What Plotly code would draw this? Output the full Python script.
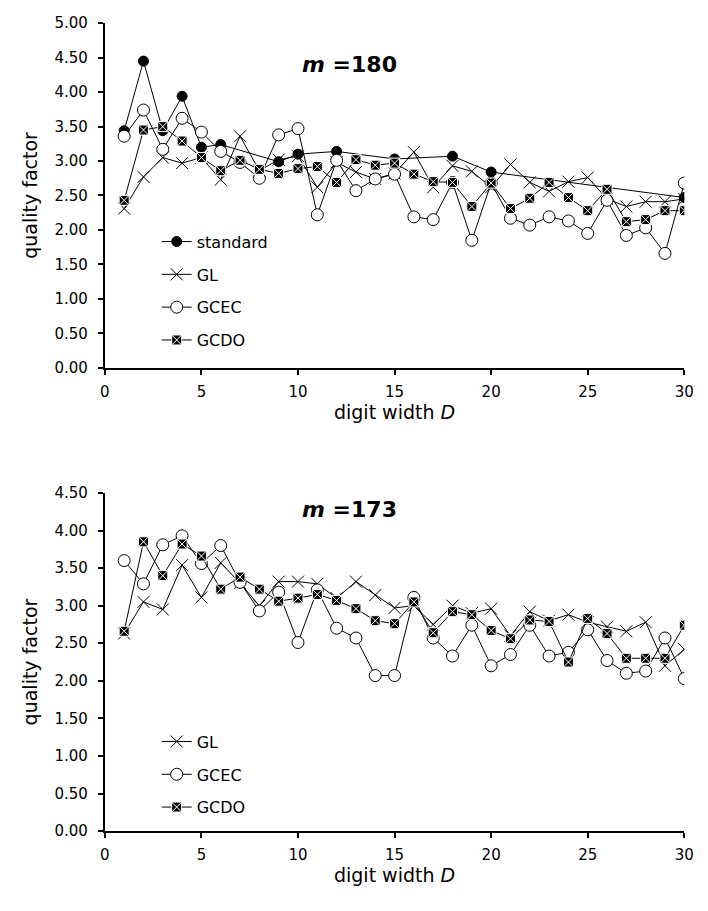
import plotly.graph_objects as go

# digit widths
D = list(range(1, 31))

# m = 180
std_D_180 = [1, 2, 3, 4, 5, 6, 9, 10, 12, 15, 18, 20, 30]
std_180 = [3.44, 4.45, 3.44, 3.94, 3.20, 3.24, 2.99, 3.10, 3.14, 3.03, 3.07, 2.84, 2.47]
gl_180 = [2.31, 2.77, 3.05, 2.97, 3.05, 2.73, 3.36, 2.86, 3.02, 3.07,
          2.62, 2.98, 2.84, 2.74, 2.82, 3.13, 2.62, 2.93, 2.85, 2.62,
          2.95, 2.69, 2.56, 2.70, 2.76, 2.45, 2.34, 2.41, 2.41, 2.45]
gcec_180 = [3.36, 3.74, 3.17, 3.62, 3.42, 3.14, 2.98, 2.75, 3.38, 3.47,
            2.22, 3.01, 2.57, 2.74, 2.81, 2.19, 2.15, 2.69, 1.85, 2.68,
            2.17, 2.07, 2.19, 2.13, 1.95, 2.43, 1.92, 2.03, 1.66, 2.68]
gcdo_180 = [2.43, 3.45, 3.50, 3.29, 3.05, 2.86, 3.01, 2.88, 2.82, 2.89,
            2.92, 2.69, 3.02, 2.94, 2.97, 2.81, 2.70, 2.69, 2.34, 2.68,
            2.31, 2.46, 2.69, 2.47, 2.28, 2.59, 2.12, 2.15, 2.28, 2.28]

# m = 173
gl_173 = [2.63, 3.05, 2.95, 3.54, 3.11, 3.57, 3.30, 3.00, 3.32, 3.32,
          3.29, 3.10, 3.32, 3.14, 2.97, 3.00, 2.75, 3.00, 2.90, 2.96,
          2.60, 2.92, 2.80, 2.88, 2.78, 2.72, 2.66, 2.78, 2.20, 2.42]
gcec_173 = [3.60, 3.29, 3.81, 3.93, 3.56, 3.80, 3.31, 2.93, 3.18, 2.51,
            3.21, 2.70, 2.57, 2.07, 2.07, 3.11, 2.57, 2.33, 2.74, 2.20,
            2.35, 2.74, 2.33, 2.38, 2.68, 2.27, 2.10, 2.13, 2.57, 2.03]
gcdo_173 = [2.66, 3.85, 3.40, 3.82, 3.66, 3.22, 3.38, 3.22, 3.06, 3.10,
            3.15, 3.07, 2.96, 2.80, 2.76, 3.05, 2.64, 2.92, 2.88, 2.67,
            2.56, 2.81, 2.79, 2.25, 2.83, 2.63, 2.30, 2.30, 2.30, 2.74]

FONT = "DejaVu Sans"
W, H = 708, 911

line_style = dict(color="black", width=1)
sty = {
    "standard": dict(symbol="circle", size=10, color="black", line=dict(color="black", width=1)),
    "GL": dict(symbol="x-thin", size=12, color="black", line=dict(color="black", width=1)),
    "GCEC": dict(symbol="circle", size=12, color="white", line=dict(color="black", width=1)),
    "GCDO": dict(symbol="square-x", size=10, color="black", line=dict(color="white", width=1)),
}

fig = go.Figure()


def add(x, y, name, xa, ya, legend):
    fig.add_trace(go.Scatter(
        x=x, y=y, name=name, mode="lines+markers",
        line=line_style, marker=sty[name],
        xaxis=xa, yaxis=ya, legend=legend, legendgroup=legend + name,
    ))


add(std_D_180, std_180, "standard", "x", "y", "legend")
add(D, gl_180, "GL", "x", "y", "legend")
add(D, gcec_180, "GCEC", "x", "y", "legend")
add(D, gcdo_180, "GCDO", "x", "y", "legend")

add(D, gl_173, "GL", "x2", "y2", "legend2")
add(D, gcec_173, "GCEC", "x2", "y2", "legend2")
add(D, gcdo_173, "GCDO", "x2", "y2", "legend2")


def px_x(p):
    return p / W


def px_y(p):
    return (H - p) / H


x_dom = [px_x(102), px_x(694)]
top_dom = [px_y(366), px_y(14.5)]
bot_dom = [px_y(838.7), px_y(493.7)]

axis_common = dict(
    showgrid=False, zeroline=False, showline=True, linecolor="black", linewidth=2,
    ticks="outside", ticklen=5, tickwidth=1.5, tickcolor="black",
    tickfont=dict(family=FONT, size=15, color="black"),
)
xcommon = dict(axis_common, range=[0, 30], tick0=0, dtick=5, ticklabelstandoff=4,
               title=dict(text="digit width <i>D</i>", font=dict(family=FONT, size=19, color="black"),
                          standoff=5))
ycommon = dict(axis_common, tickformat=".2f", dtick=0.5, tick0=0, ticklabelstandoff=7,
               title=dict(text="quality factor", font=dict(family=FONT, size=19, color="black"),
                          standoff=12))

legend_common = dict(
    font=dict(family=FONT, size=16, color="black"),
    bgcolor="rgba(0,0,0,0)", borderwidth=0, tracegroupgap=9,
    xanchor="left", yanchor="top", itemsizing="trace",
)

fig.update_layout(
    width=W, height=H, autosize=False,
    margin=dict(l=0, r=0, t=0, b=0),
    paper_bgcolor="white", plot_bgcolor="white",
    font=dict(family=FONT, color="black"),
    xaxis=dict(xcommon, domain=x_dom, anchor="y"),
    yaxis=dict(ycommon, domain=top_dom, range=[0, 5], anchor="x"),
    xaxis2=dict(xcommon, domain=x_dom, anchor="y2"),
    yaxis2=dict(ycommon, domain=bot_dom, range=[0, 4.5], anchor="x2"),
    legend=dict(legend_common, x=px_x(155), y=px_y(220)),
    legend2=dict(legend_common, x=px_x(155), y=px_y(730)),
    annotations=[
        dict(text="<b><i>m</i> =180</b>", x=px_x(352), y=px_y(42), xref="paper", yref="paper",
             showarrow=False, font=dict(family=FONT, size=22, color="black")),
        dict(text="<b><i>m</i> =173</b>", x=px_x(352), y=px_y(511), xref="paper", yref="paper",
             showarrow=False, font=dict(family=FONT, size=22, color="black")),
    ],
)

fig.write_html("out.html")
